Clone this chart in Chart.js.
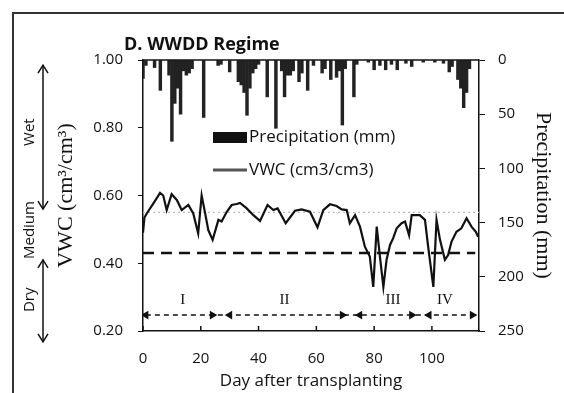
<!DOCTYPE html>
<html>
<head>
<meta charset="utf-8">
<script src="https://cdn.jsdelivr.net/npm/chart.js@4.4.1/dist/chart.umd.min.js"></script>
<style>
  body { margin: 0; background: #fff; }
  #wrap { width: 564px; height: 393px; }
</style>
</head>
<body>
<div id="wrap"><canvas id="vwcChart" width="564" height="393"></canvas></div>
<script>
// soil moisture (VWC) readings, day after transplanting
const vwcDays = [0, 0.5, 1.3, 3.6, 5.9, 7.0, 8.2, 9.9, 11.7, 13.4, 15.7, 17.4, 19.1, 20.3, 21.5, 22.6, 24.1,
  26.1, 27.2, 29.0, 30.7, 32.4, 33.6, 35.9, 38.2, 40.5, 43.1, 45.1, 46.6, 49.4, 52.6, 54.9, 57.8, 60.4,
  62.4, 64.7, 67.0, 68.8, 70.5, 71.6, 73.4, 75.1, 76.8, 78.5, 79.7, 80.9, 82.0, 83.2, 84.3, 85.5, 86.6,
  87.8, 89.5, 90.7, 92.1, 93.0, 95.8, 97.6, 98.7, 100.5, 101.6, 102.8, 104.5, 105.6, 106.8, 108.5,
  110.2, 112.0, 113.7, 115.2, 116.0];
const vwcValues = [0.49, 0.535, 0.547, 0.577, 0.608, 0.600, 0.557, 0.604, 0.587, 0.557, 0.572, 0.547, 0.488,
  0.600, 0.548, 0.498, 0.469, 0.528, 0.523, 0.552, 0.572, 0.575, 0.578, 0.562, 0.542, 0.525, 0.572, 0.557,
  0.562, 0.518, 0.555, 0.559, 0.552, 0.506, 0.557, 0.574, 0.569, 0.559, 0.557, 0.518, 0.542, 0.508, 0.449,
  0.420, 0.330, 0.508, 0.420, 0.330, 0.410, 0.454, 0.474, 0.503, 0.518, 0.523, 0.483, 0.542, 0.542, 0.528,
  0.449, 0.330, 0.528, 0.469, 0.410, 0.424, 0.464, 0.493, 0.503, 0.533, 0.508, 0.493, 0.478];

// daily rainfall (mm)
const rainDays = [0, 1, 4, 6, 9, 10, 11, 12, 13, 14, 15, 16, 17, 21, 26, 27, 30, 33, 34, 35, 36, 37, 38, 39, 40,
  43, 46, 48, 49, 50, 51, 52, 54, 55, 57, 59, 62, 63, 65, 67, 68, 69, 70, 73, 74, 78, 80, 82, 84, 86, 88,
  91, 93, 97, 101, 104, 106, 107, 109, 110, 111, 112, 113];
const rainMm = [17, 5, 7, 28, 14, 75, 40, 26, 50, 10, 14, 12, 8, 53, 5, 4, 11, 20, 23, 30, 51, 26, 12, 8, 4,
  34, 63, 10, 34, 14, 14, 10, 20, 12, 28, 5, 12, 8, 18, 16, 10, 60, 8, 34, 4, 2, 9, 5, 9, 4, 9,
  3, 6, 2, 2, 3, 11, 6, 18, 26, 44, 30, 8];

// VWC thresholds
const dryLimit = 0.43;
const wetLimit = 0.55;

// drying periods
const periodNames = ['I', 'II', 'III', 'IV'];
const periodLabelDays = [13.8, 49, 86.5, 104.5];
const periodBounds = [1, 24, 30, 69, 75, 93, 99, 114];
const periodLevel = 0.247;
const periodLabelLevel = 0.291;

// moisture zones along the VWC axis
const zoneNames = ['Wet', 'Medium', 'Dry'];
const zoneLabelAt = [0.787, 0.498, 0.292];
const zoneArrows = [[0.985, 0.56], null, [0.41, 0.168]];

const xMax = 116.3;
const sans = '"Open Sans", Lato, sans-serif';
const serif = '"Liberation Serif", "DejaVu Serif", serif';
const ink = '#111';

function arrowHead(ctx, x, y, dir) {
  ctx.beginPath();
  ctx.moveTo(x - 5, y - dir * 8);
  ctx.lineTo(x, y);
  ctx.lineTo(x + 5, y - dir * 8);
  ctx.stroke();
}

const decor = {
  id: 'decor',
  beforeDraw(chart) {
    const ctx = chart.ctx;
    ctx.save();
    ctx.fillStyle = '#fff';
    ctx.fillRect(0, 0, chart.width, chart.height);
    ctx.strokeStyle = '#333';
    ctx.lineWidth = 2;
    ctx.beginPath();
    ctx.moveTo(13, chart.height);
    ctx.lineTo(13, 13);
    ctx.lineTo(chart.width, 13);
    ctx.stroke();
    ctx.restore();
  },
  afterDraw(chart) {
    const { ctx, chartArea: a, scales } = chart;
    const x = scales.x, y = scales.y;
    ctx.save();
    ctx.strokeStyle = ink;
    ctx.fillStyle = ink;

    // top edge of plot
    ctx.lineWidth = 1.5;
    ctx.beginPath();
    ctx.moveTo(a.left, a.top);
    ctx.lineTo(a.right, a.top);
    ctx.stroke();

    // x ticks point inward
    x.ticks.forEach(t => {
      const px = x.getPixelForValue(t.value);
      ctx.beginPath();
      ctx.moveTo(px, a.bottom);
      ctx.lineTo(px, a.bottom - 5);
      ctx.stroke();
    });

    // title
    ctx.font = 'bold 18px ' + sans;
    ctx.textAlign = 'left';
    ctx.textBaseline = 'alphabetic';
    ctx.fillText('D. WWDD Regime', 124, 50);

    // legend
    ctx.fillRect(213, 132, 34, 11);
    ctx.font = '17px ' + sans;
    ctx.textBaseline = 'middle';
    ctx.fillText('Precipitation (mm)', 249, 137);
    ctx.strokeStyle = '#555';
    ctx.lineWidth = 3;
    ctx.beginPath();
    ctx.moveTo(213, 170);
    ctx.lineTo(247, 170);
    ctx.stroke();
    ctx.fillText('VWC (cm3/cm3)', 249, 170);

    // period labels
    ctx.font = '15px ' + serif;
    ctx.textAlign = 'center';
    periodNames.forEach((n, i) => {
      ctx.fillText(n, x.getPixelForValue(periodLabelDays[i]), y.getPixelForValue(periodLabelLevel));
    });

    // moisture zones on the left
    ctx.strokeStyle = ink;
    ctx.lineWidth = 1.5;
    zoneArrows.forEach(r => {
      if (!r) return;
      const y1 = y.getPixelForValue(r[0]), y2 = y.getPixelForValue(r[1]);
      ctx.beginPath();
      ctx.moveTo(43, y1);
      ctx.lineTo(43, y2);
      ctx.stroke();
      arrowHead(ctx, 43, y1, -1);
      arrowHead(ctx, 43, y2, 1);
    });
    ctx.font = '15px ' + sans;
    zoneNames.forEach((n, i) => {
      ctx.save();
      ctx.translate(30, y.getPixelForValue(zoneLabelAt[i]));
      ctx.rotate(-Math.PI / 2);
      ctx.fillText(n, 0, 0);
      ctx.restore();
    });
    ctx.restore();
  }
};

new Chart(document.getElementById('vwcChart'), {
  data: {
    datasets: [
      {
        type: 'bar',
        label: 'Precipitation (mm)',
        data: rainDays.map((d, i) => ({ x: d, y: rainMm[i] })),
        yAxisID: 'y2',
        backgroundColor: '#222',
        barThickness: 2.8,
        grouped: false
      },
      {
        type: 'line',
        label: 'VWC (cm3/cm3)',
        data: vwcDays.map((d, i) => ({ x: d, y: vwcValues[i] })),
        yAxisID: 'y',
        borderColor: '#111',
        borderWidth: 2.2,
        pointRadius: 0,
        tension: 0
      },
      {
        type: 'line',
        data: [{ x: 0, y: dryLimit }, { x: 115, y: dryLimit }],
        yAxisID: 'y',
        borderColor: '#111',
        borderWidth: 2.5,
        borderDash: [11, 7],
        pointRadius: 0
      },
      {
        type: 'line',
        data: [{ x: 0, y: wetLimit }, { x: xMax, y: wetLimit }],
        yAxisID: 'y',
        borderColor: '#bbb',
        borderWidth: 1.2,
        borderDash: [2, 3],
        pointRadius: 0
      },
      {
        type: 'line',
        data: periodBounds.map(d => ({ x: d, y: periodLevel })),
        yAxisID: 'y',
        borderColor: '#111',
        borderWidth: 1.5,
        borderDash: [5, 4],
        pointStyle: 'triangle',
        pointRadius: 3.5,
        pointRotation: periodBounds.map((d, i) => (i % 2 === 0 ? 270 : 90)),
        pointBackgroundColor: '#111',
        pointBorderColor: '#111'
      }
    ]
  },
  options: {
    responsive: false,
    animation: false,
    layout: { padding: { top: 60, left: 0, right: 0, bottom: 0 } },
    plugins: {
      legend: { display: false },
      tooltip: { enabled: false }
    },
    scales: {
      x: {
        type: 'linear',
        offset: false,
        min: 0,
        max: xMax,
        grid: { display: false, drawTicks: false },
        border: { color: ink, width: 1.5 },
        ticks: { stepSize: 20, includeBounds: false, padding: 19, color: ink, font: { family: sans, size: 15 } },
        title: {
          display: true,
          text: 'Day after transplanting',
          color: ink,
          font: { family: sans, size: 17 },
          padding: { top: 0, bottom: 2 }
        },
        afterFit: s => { s.height = 62; }
      },
      y: {
        position: 'left',
        min: 0.2,
        max: 1.0,
        grid: { drawOnChartArea: false, tickLength: 5, color: ink },
        border: { color: ink, width: 1.5 },
        ticks: {
          stepSize: 0.2,
          padding: 15,
          color: ink,
          font: { family: sans, size: 15 },
          callback: v => v.toFixed(2)
        },
        title: {
          display: true,
          text: 'VWC (cm³/cm³)',
          color: ink,
          font: { family: serif, size: 22 },
          padding: { top: 53, bottom: 0 }
        },
        afterFit: s => { s.width = 143; }
      },
      y2: {
        position: 'right',
        reverse: true,
        min: 0,
        max: 250,
        grid: { drawOnChartArea: false, tickLength: 6, color: ink },
        border: { color: ink, width: 1.5 },
        ticks: { stepSize: 50, padding: 13, color: ink, font: { family: sans, size: 15 } },
        title: {
          display: true,
          text: 'Precipitation (mm)',
          color: ink,
          font: { family: serif, size: 22 },
          padding: { top: 8, bottom: 0 }
        },
        afterFit: s => { s.width = 85; }
      }
    }
  },
  plugins: [decor]
});
</script>
</body>
</html>
